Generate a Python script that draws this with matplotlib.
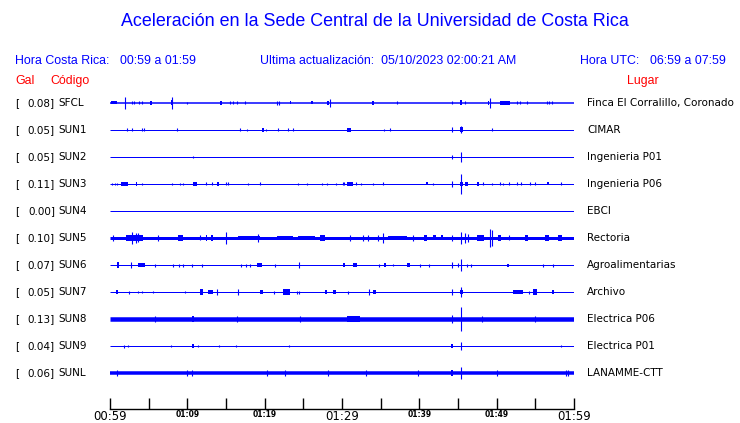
import matplotlib
matplotlib.use("Agg")
import matplotlib.pyplot as plt

# === DATA ===
# minutes after 00:59, amplitudes in screen-ish units (1 row = 27)
CODES = ["SFCL", "SUN1", "SUN2", "SUN3", "SUN4", "SUN5", "SUN6", "SUN7", "SUN8", "SUN9", "SUNL"]
GALS = [0.08, 0.05, 0.05, 0.11, 0.00, 0.10, 0.07, 0.05, 0.13, 0.04, 0.06]
PLACES = ["Finca El Corralillo, Coronado", "CIMAR", "Ingenieria P01", "Ingenieria P06", "EBCI",
          "Rectoria", "Agroalimentarias", "Archivo", "Electrica P06", "Electrica P01", "LANAMME-CTT"]
BASE_NOISE = [1.5, 1.0, 1.0, 1.0, 1.0, 3.0, 1.0, 1.0, 4.5, 1.0, 3.5]   # trace thickness (px)

# events per station: (start minute, half amplitude, duration minutes)
EVENTS = {
    "SFCL": [(0.1, 1.5, 0.8), (2.0, 6, 0), (2.8, 1.5, 0), (3.1, 1.5, 0), (3.75, 1.5, 0), (4.1, 1.5, 0),
             (5.2, 2, 0.2), (8.0, 6, 0), (7.85, 2.5, 0.3), (10.0, 1, 0), (14.2, 2, 0.3), (15.5, 1.5, 0),
             (15.9, 1.5, 0), (16.4, 1.5, 0), (17.5, 1.5, 0), (21.6, 2, 0), (21.85, 2, 0), (23.25, 1.5, 0.2),
             (26.0, 1.5, 0.2), (28.0, 2, 0.3), (28.45, 4, 0), (33.85, 2, 0.3), (37.1, 1.5, 0), (44.2, 1.5, 0),
             (45.2, 2.5, 0.3), (45.9, 1.5, 0), (48.85, 2, 0.2), (49.2, 5, 0), (50.4, 2, 1.3), (52.6, 1.5, 0),
             (53.0, 1.5, 0), (53.9, 1.5, 0), (56.5, 1.5, 0), (56.8, 1.5, 0), (57.1, 1.5, 0)],
    "SUN1": [(2.15, 1.5, 0), (2.8, 1.5, 0), (4.1, 1.5, 0), (4.45, 1.5, 0), (8.6, 1.5, 0), (16.8, 1.5, 0),
             (17.75, 1, 0), (19.7, 2, 0.2), (20.2, 1, 0), (21.7, 1.5, 0), (23.05, 1.5, 0), (23.6, 1.5, 0),
             (30.7, 2, 0.4), (35.4, 1, 0), (36.25, 1.5, 0), (44.2, 2.5, 0), (45.45, 3.5, 0), (45.3, 2.5, 0.3),
             (49.45, 1.5, 0)],
    "SUN2": [(10.7, 1, 0), (44.2, 2, 0), (45.45, 5, 0)],
    "SUN3": [(0.3, 1, 0), (0.6, 1, 0), (0.9, 1, 0), (1.4, 2, 0.9), (3.35, 2, 0.2), (4.2, 1, 0), (8.0, 1, 0),
             (9.05, 1, 0), (9.4, 1, 0), (10.7, 2, 0.6), (12.4, 1.5, 0), (13.2, 1.5, 0), (13.85, 2, 0.3),
             (15.0, 1.5, 0), (15.2, 1.5, 0), (17.9, 1, 0), (19.4, 1.5, 0), (24.35, 1, 0), (25.45, 1, 0),
             (27.4, 1, 0), (28.0, 1, 0), (29.2, 1, 0), (30.1, 1.5, 0), (30.3, 1.5, 0), (30.6, 2, 0.8),
             (31.8, 1.5, 0), (32.45, 1, 0), (33.95, 1, 0), (35.25, 1.5, 0), (40.8, 1.5, 0.3), (41.75, 1, 0),
             (44.2, 3, 0), (45.45, 10, 0), (45.25, 2, 0.4), (45.95, 2, 0.3), (47.45, 2, 0.3), (48.2, 1.5, 0),
             (49.35, 1, 0), (50.45, 1.5, 0), (50.85, 1, 0), (51.6, 1.5, 0), (52.6, 1.5, 0), (53.15, 1.5, 0),
             (54.3, 1.5, 0), (54.95, 1.5, 0), (56.5, 1.5, 0.3), (58.3, 1.5, 0)],
    "SUN4": [],
    "SUN5": [(0.4, 3, 0), (2.1, 3, 2.2), (2.9, 6, 0), (3.3, 5, 0), (3.6, 4.5, 0), (6.2, 3, 0),
             (8.8, 2.8, 0.6), (11.6, 2.5, 0), (12.4, 2.8, 0.2), (13.1, 2.8, 0.2), (15.0, 6, 0), (16.5, 2.3, 2.9),
             (19.2, 4, 0), (21.55, 2.3, 2.15), (24.3, 2.3, 2.2), (27.2, 2.8, 0.6), (31.0, 3, 0), (32.7, 3, 0),
             (33.3, 3, 0), (34.7, 3, 0), (35.3, 5, 0), (36.0, 2.3, 2.4), (39.2, 3, 0), (40.6, 3.2, 0.4),
             (41.8, 2.5, 0.4), (42.75, 2.5, 0.3), (44.2, 3, 0), (45.45, 6, 0), (45.9, 5, 0), (46.35, 4, 0),
             (47.4, 3, 0.9), (49.2, 9, 0), (49.35, 8, 0), (50.2, 3.2, 0.3), (51.6, 2.5, 0),
             (53.65, 2.8, 0.4), (56.25, 3.2, 0.55), (57.95, 3.2, 0.5)],
    "SUN6": [(0.85, 3, 0.3), (2.7, 3, 0), (3.6, 2, 0.9), (5.8, 1.5, 0), (8.2, 1.5, 0), (8.9, 1.5, 0),
             (9.5, 1.5, 0), (10.65, 1.5, 0), (11.85, 1.5, 0), (17.0, 1.5, 0), (17.55, 1.5, 0), (18.1, 1.5, 0),
             (19.0, 2, 0.65), (21.35, 1.5, 0), (24.5, 3, 0), (30.15, 2, 0.3), (31.4, 2, 0.5), (34.8, 1.5, 0),
             (35.4, 2, 0.3), (36.65, 1, 0), (38.45, 2, 0.3), (40.1, 1.5, 0), (41.25, 1.5, 0), (44.2, 3, 0),
             (45.0, 2, 0), (45.45, 6, 0), (46.1, 1.5, 0), (46.65, 1.5, 0), (51.4, 1.5, 0.2), (56.05, 1.5, 0),
             (57.25, 1.5, 0)],
    "SUN7": [(0.75, 2, 0.3), (2.45, 1.5, 0), (3.6, 1, 0), (4.1, 1, 0), (5.6, 1, 0), (9.7, 1, 0),
             (11.6, 3, 0.4), (12.7, 2, 0.6), (13.8, 3, 0), (16.6, 3, 0), (19.4, 2, 0.4), (21.2, 1.5, 0),
             (22.35, 3, 0.9), (24.15, 1.5, 0), (24.5, 1.5, 0), (27.8, 2, 0.3), (28.8, 2, 0.4), (30.75, 1.5, 0),
             (33.55, 3, 0), (34.05, 2, 0.4), (44.2, 3, 0), (45.45, 5, 0), (45.2, 2, 0.5), (52.1, 2, 1.3),
             (54.2, 1.5, 0), (54.7, 3, 0.5), (57.1, 2, 0.3)],
    "SUN8": [(5.8, 3, 0), (10.55, 3, 0.3), (16.4, 3, 0), (24.6, 3, 0), (30.6, 2.7, 1.7), (44.2, 4, 0),
             (45.45, 12, 0), (48.15, 3, 0), (55.0, 3, 0)],
    "SUN9": [(1.85, 1.5, 0), (2.35, 1, 0), (7.85, 1, 0), (10.6, 2, 0.2), (11.35, 1, 0), (14.15, 1, 0),
             (16.25, 1, 0), (23.2, 1, 0), (44.05, 2, 0.3), (45.45, 4, 0), (58.3, 1, 0)],
    "SUNL": [(0.85, 3, 0), (9.9, 3, 0), (10.55, 3, 0), (20.35, 3, 0), (22.65, 3, 0), (28.25, 3, 0),
             (33.1, 3, 0), (39.85, 3, 0), (44.05, 3, 0.3), (45.45, 6, 0), (50.0, 3, 0), (59.0, 3, 0),
             (59.2, 3, 0)],
}

TICK_MIN = list(range(0, 61, 5))
TICK_LABELS = ["00:59", "", "01:09", "", "01:19", "", "01:29", "", "01:39", "", "01:49", "", "01:59"]
BIG_LABELS = ["00:59", "01:29", "01:59"]

# === STYLE ===
W, H = 740, 423
BLUE = "#0000ff"
ROW = 27.0   # px between traces
FONT_HDR = "Liberation Sans"


def px(x, y):
    return x / W, 1 - y / H


def main():
    fig = plt.figure(figsize=(W / 100, H / 100), dpi=100)
    fig.patch.set_facecolor("white")

    # header
    fig.text(*px(375, 22), "Aceleración en la Sede Central de la Universidad de Costa Rica",
             color=BLUE, fontsize=12.9, family=FONT_HDR, ha="center", va="center")
    hdr = dict(color=BLUE, fontsize=8.9, family=FONT_HDR, va="center")
    fig.text(*px(15, 61), "Hora Costa Rica:", **hdr)
    fig.text(*px(120, 61), "00:59 a 01:59", **hdr)
    fig.text(*px(260, 61), "Ultima actualización:  05/10/2023 02:00:21 AM", **hdr)
    fig.text(*px(580, 61), "Hora UTC:", **hdr)
    fig.text(*px(650, 61), "06:59 a 07:59", **hdr)
    red = dict(color="red", fontsize=8.9, family=FONT_HDR, va="center")
    fig.text(*px(15, 81), "Gal", **red)
    fig.text(*px(50, 81), "Código", **red)
    fig.text(*px(627, 81), "Lugar", **red)

    # traces axes: bottom at axis line (y=409), first trace at y=103
    top_px, bot_px, first_px = 85, 409, 103
    ax = fig.add_axes([110 / W, (H - bot_px) / H, 464 / W, (bot_px - top_px) / H])
    ax.set_xlim(0, 60)
    ax.set_ylim((bot_px - first_px) / ROW, (top_px - first_px) / ROW)

    for i, code in enumerate(CODES):
        ax.hlines(i, 0, 60, color=BLUE, lw=BASE_NOISE[i] * 0.72)
        for t, a, w in EVENTS[code]:
            h = a / ROW
            if w > 0:
                ax.bar(t, 2 * h, width=w, bottom=i - h, align="edge", color=BLUE, lw=0)
            else:
                ax.vlines(t, i - h, i + h, color=BLUE, lw=0.8)
        y = first_px + ROW * i
        fig.text(*px(15, y), "[", fontsize=7.5, va="center")
        fig.text(*px(55, y), f"{GALS[i]:.2f}]", fontsize=7.5, va="center", ha="right")
        fig.text(*px(58, y), code, fontsize=7.5, va="center")
        fig.text(*px(587, y), PLACES[i], fontsize=7.5, va="center")

    for s in ["top", "left", "right"]:
        ax.spines[s].set_visible(False)
    ax.spines["bottom"].set_linewidth(1.0)
    ax.set_yticks([])
    ax.set_xticks(TICK_MIN)
    ax.set_xticklabels(TICK_LABELS)
    ax.tick_params(axis="x", direction="in", length=8, width=1, pad=1)
    for lbl in ax.get_xticklabels():
        if lbl.get_text() in BIG_LABELS:
            lbl.set_fontsize(8.5)
        else:
            lbl.set_fontsize(5.5)
            lbl.set_fontweight("bold")
    fig.savefig("out.png", dpi=100)
    plt.close(fig)


if __name__ == "__main__":
    main()
